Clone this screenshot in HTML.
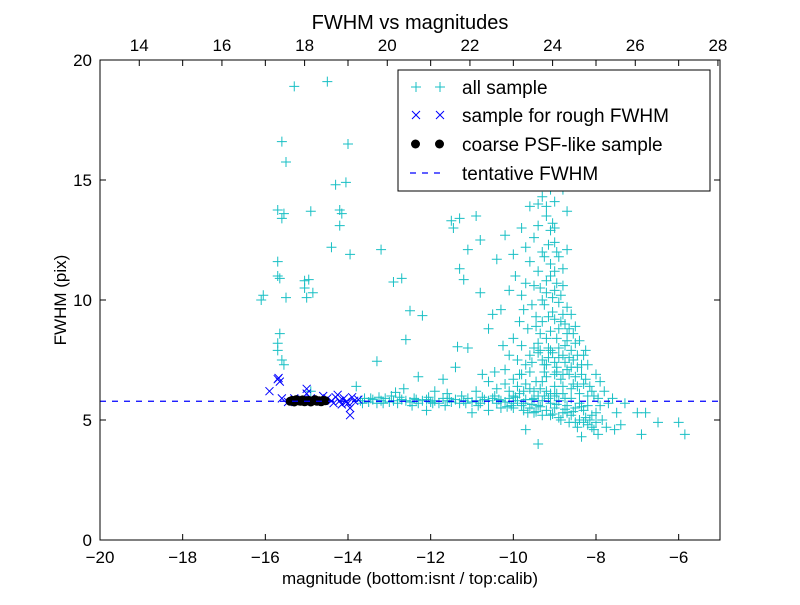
<!DOCTYPE html>
<html><head><meta charset="utf-8"><style>
body{margin:0;background:#fff;}
svg text{font-family:"Liberation Sans",sans-serif;}
</style></head><body>
<svg id="chart" width="800" height="600" xmlns="http://www.w3.org/2000/svg">
<rect width="800" height="600" fill="#fff"/>
<g id="marks"></g>
<g id="axes"></g>
</svg>
<script>
const allPts = [
[-15.6,16.6],[-15.5,15.75],[-15.3,18.9],[-14.5,19.1],[-14.0,16.5],[-15.7,13.75],[-15.6,13.4],[-15.55,13.6],[-14.9,13.7],[-14.2,13.75],[-14.15,13.6],[-14.3,14.8],[-14.05,14.9],[-14.2,13.1],[-14.4,12.2],[-13.95,11.9],[-13.2,12.1],[-12.7,10.9],[-12.9,10.75],
[-16.1,10.0],[-16.05,10.2],[-15.7,11.0],[-15.65,10.9],[-15.7,11.6],[-15.5,10.1],[-15.05,10.8],[-14.95,10.85],[-15.0,10.1],[-14.85,10.3],[-15.05,10.5],
[-15.7,8.2],[-15.65,8.6],[-15.6,7.5],[-15.7,7.9],[-15.55,7.3],[-13.8,6.4],[-13.3,7.45],[-12.6,8.35],[-12.5,9.55],[-12.2,9.35],
[-11.5,13.3],[-11.45,13.0],[-11.3,13.4],[-11.1,12.1],[-10.9,13.5],[-10.8,12.5],[-11.3,11.3],[-11.2,10.85],[-10.8,10.3],[-11.1,8.0],[-11.35,8.05],[-10.6,8.8],[-10.5,9.4],
[-11.7,6.7],[-12.3,6.8],[-11.9,6.2],[-12.85,6.15],[-14.9,6.2],[-12.65,6.3],[-11.4,7.2],[-11.6,6.1],[-12.1,5.4],[-11.0,5.3],
[-13.7,5.8],[-13.5,5.75],[-13.4,5.85],[-13.3,5.7],[-13.2,5.8],[-13.1,5.9],[-13.0,5.75],[-12.9,5.8],[-12.8,5.7],[-12.7,5.85],[-12.6,5.8],[-12.5,5.75],[-12.4,5.9],[-12.3,5.7],[-12.2,5.8],[-12.1,5.85],[-12.0,5.75],[-11.9,5.8],[-11.8,5.7],[-11.7,5.9],[-11.6,5.8],[-11.5,5.75],[-11.4,5.85],[-11.3,5.7],[-11.2,5.8],[-11.1,5.9],[-11.0,5.75],[-10.9,5.8],[-10.8,5.7],[-10.7,5.85],[-10.6,5.8],[-10.5,5.9],[-10.4,5.7],[-10.3,5.8],[-10.2,5.75],[-10.1,5.9],[-10.0,5.7],[-9.9,5.8],[-9.8,5.6],[-9.7,5.85],[-9.6,5.5],[-9.5,5.9],[-9.4,5.6],[-9.3,5.8],[-9.2,5.4],[-9.1,5.7],[-9.0,5.5],[-8.9,5.8],[-8.8,5.3],[-8.7,5.6],[-8.6,5.2],[-8.5,5.5],[-8.4,5.0],[-8.3,5.4],[-8.2,4.8],[-8.1,5.2],[-8.0,4.9],
[-13.65,5.7],[-13.45,5.9],[-13.15,5.7],[-12.75,5.95],[-12.35,5.85],[-11.95,5.7],[-11.55,5.9],[-11.15,5.7],[-10.75,5.95],[-10.35,5.85],[-10.05,5.6],[-9.95,5.95],[-9.75,5.7],[-9.55,5.65],[-9.35,5.55],[-9.15,5.9],[-8.95,5.65],[-8.75,5.45],[-8.55,5.35],[-8.35,5.55],[-8.15,5.0],
[-13.6,5.9],[-13.25,5.95],[-12.95,6.0],[-12.45,5.6],[-12.05,5.95],[-11.65,5.6],[-11.25,6.0],[-10.85,5.6],[-10.45,6.0],[-10.15,5.55],[-9.85,6.1],[-9.65,5.3],[-9.45,5.35],[-9.25,6.0],[-9.05,5.25],[-8.85,5.0],[-8.65,4.9],[-8.45,4.7],[-8.25,5.1],[-8.05,4.6],
[-7.9,5.6],[-7.8,6.2],[-7.7,5.7],[-7.6,5.9],[-7.5,5.3],[-7.4,4.8],[-7.3,5.7],[-7.0,5.3],[-6.9,4.4],[-6.8,5.3],[-6.5,4.9],[-6.0,4.9],[-5.85,4.4],[-7.55,4.6],[-7.95,4.4],[-8.35,4.3],[-9.7,4.6],[-9.4,4.0],
[-10.4,6.3],[-10.2,7.1],[-10.0,6.7],[-9.9,7.5],[-9.8,8.1],[-9.7,6.5],[-9.6,7.0],[-9.5,6.2],[-9.4,7.8],[-9.3,6.6],[-9.2,7.3],[-9.1,6.1],[-9.0,6.9],[-8.9,7.6],[-8.8,6.4],[-8.7,7.1],[-8.6,6.3],[-8.5,6.8],[-8.4,6.1],[-8.3,6.5],[-8.2,6.0],[-8.1,6.2],
[-10.1,6.2],[-9.85,6.9],[-9.55,7.4],[-9.35,8.6],[-9.15,8.0],[-8.95,8.4],[-8.75,8.1],[-8.55,7.5],[-8.45,7.2],[-8.65,8.8],[-8.85,9.1],[-9.05,9.5],[-9.25,9.8],[-9.45,9.3],[-9.65,8.8],[-9.75,9.6],
[-10.3,9.6],[-10.1,10.4],[-9.95,11.0],[-9.8,10.2],[-9.6,11.6],[-9.5,10.6],[-9.4,11.2],[-9.3,10.0],[-9.2,10.8],[-9.1,11.5],[-9.0,10.4],[-8.9,9.9],[-8.8,10.6],[-8.7,9.7],[-8.6,9.4],[-8.5,8.9],[-8.4,8.3],[-8.3,7.7],[-8.2,7.3],[-8.0,6.9],[-7.9,6.6],
[-9.7,12.2],[-9.5,12.6],[-9.4,13.1],[-9.3,12.0],[-9.2,13.5],[-9.1,12.9],[-9.0,12.4],[-8.9,11.8],[-8.8,11.3],[-8.7,12.1],[-9.6,13.9],[-9.3,14.3],[-9.0,14.1],[-8.8,14.6],[-9.5,14.9],[-9.2,15.2],[-9.4,14.0],[-9.1,14.6],[-8.7,13.7],[-9.8,13.0],[-10.2,12.7],[-10.4,11.7],[-10.0,11.9],
[-9.15,7.6],[-8.95,7.0],[-8.85,6.7],[-8.75,7.4],[-8.65,6.9],[-9.45,6.6],[-9.25,7.0],[-9.05,7.8],[-8.55,6.5],[-8.35,6.9],[-8.25,7.9],[-9.35,6.3],[-8.95,6.1],[-8.75,5.9],[-9.55,5.85],[-10.3,5.5],[-10.6,5.4],
[-9.25,7.3],[-9.1,7.9],[-9.0,7.4],[-8.9,8.0],[-8.8,7.7],[-8.7,8.3],[-8.6,7.9],[-8.5,8.2],[-8.6,7.2],[-8.8,6.9],[-9.0,6.4],[-9.2,6.8],[-9.3,7.5],[-9.4,8.2],[-9.5,8.0],[-9.6,7.7],[-9.7,7.3],[-9.8,6.9],[-9.9,6.4],[-10.0,6.0],
[-9.1,8.7],[-8.9,8.8],[-8.7,8.6],[-9.3,9.1],[-9.0,9.2],[-8.8,9.4],[-9.2,8.4],[-9.35,7.9],[-8.95,7.2],[-8.65,7.6],[-8.45,7.7],[-8.35,7.3],[-8.45,6.4],[-8.25,6.7],[-8.15,6.4],[-8.05,6.0],[-7.95,5.9],
[-9.15,9.3],[-9.05,10.1],[-9.2,10.3],[-8.95,10.7],[-9.35,10.5],[-9.1,11.0],[-9.25,11.8],[-9.0,11.2],[-9.15,12.3],[-9.05,13.2],[-9.2,13.9],[-9.0,13.0],[-8.95,12.0],[-8.85,10.2],[-8.75,9.0],[-8.55,8.6],
[-9.45,8.9],[-9.55,9.8],[-9.7,10.7],[-9.85,9.1],[-10.0,8.4],[-10.1,7.7],[-10.25,8.1],[-10.45,7.0],[-10.6,6.6],[-10.75,6.9],[-10.9,6.2],[-10.2,6.5],[-9.75,6.2],[-9.6,6.3],[-9.4,6.0],[-9.2,6.2],[-9.0,6.0],[-8.8,6.1],[-8.6,5.9],[-8.4,5.7],[-8.2,5.6],
[-9.1,5.2],[-8.9,5.1],[-8.7,5.3],[-8.5,4.9],[-8.3,4.9],[-8.1,4.7],[-9.3,5.2],[-9.5,5.3],[-9.75,5.4],[-10.0,5.5],[-8.0,5.3],[-7.85,5.0],[-7.75,4.7]
];
const allMag = allPts.map(p => p[0]);
const allFwhm = allPts.map(p => p[1]);
const roughMag = [-15.9,-15.7,-15.65,-15.6,-15.0,-14.6,-14.5,-14.3,-14.1,-14.0,-13.95,-13.95,-14.2,-14.4,-14.7,-14.8,-14.9,-15.1,-13.9,-13.85,-15.45,-15.3,-14.25,-14.05,-13.75,-15.0,-14.35,-14.15,-15.68];
const roughFwhm = [6.2,6.7,6.6,5.9,6.3,6.0,5.9,5.95,5.9,5.7,5.5,5.2,5.8,5.8,5.85,5.8,5.9,5.85,5.95,5.8,5.75,5.9,6.05,5.75,5.85,6.1,5.7,5.65,6.75];
const psfMag = [-15.4,-15.35,-15.3,-15.25,-15.2,-15.15,-15.1,-15.05,-15.0,-14.95,-14.9,-14.85,-14.8,-14.75,-14.7,-14.65,-14.6,-14.55];
const psfFwhm = [5.78,5.82,5.75,5.85,5.8,5.78,5.84,5.76,5.8,5.82,5.75,5.8,5.85,5.78,5.8,5.76,5.82,5.8];
const tentative = 5.78;
const xTicks = [-20,-18,-16,-14,-12,-10,-8,-6];
const xTickLabels = ["\u221220","\u221218","\u221216","\u221214","\u221212","\u221210","\u22128","\u22126"];
const topTicks = [14,16,18,20,22,24,26,28];
const yTicks = [0,5,10,15,20];

const L=100,R=720,T=60,B=540;
const xs = v => L + (v+20)/15*(R-L);
const ys = v => B - v/20*(B-T);
const xTop = v => xs(v-33.05);
const NS="http://www.w3.org/2000/svg";
const marks=document.getElementById('marks'), axes=document.getElementById('axes');
function mk(tag,attrs,parent){const e=document.createElementNS(NS,tag);for(const k in attrs)e.setAttribute(k,attrs[k]);parent.appendChild(e);return e;}
function plus(x,y,c,g){mk('path',{d:`M${x-5},${y}H${x+5}M${x},${y-5}V${y+5}`,stroke:c,'stroke-width':1,fill:'none'},g);}
function cross(x,y,c,g){mk('path',{d:`M${x-4},${y-4}L${x+4},${y+4}M${x-4},${y+4}L${x+4},${y-4}`,stroke:c,'stroke-width':1,fill:'none'},g);}

const clip=mk('clipPath',{id:'pc'},document.getElementById('chart'));
mk('rect',{x:L,y:T,width:R-L,height:B-T},clip);
const gAll=mk('g',{'clip-path':'url(#pc)'},marks);


allMag.forEach((m,i)=>plus(xs(m),ys(allFwhm[i]),'#17bfc4',gAll));
const gR=mk('g',{},marks);


roughMag.forEach((m,i)=>cross(xs(m),ys(roughFwhm[i]),'#0000ff',gR));
const gP=mk('g',{},marks);


psfMag.forEach((m,i)=>mk('circle',{cx:xs(m),cy:ys(psfFwhm[i]),r:4.5,fill:'#000'},gP));
const tl=mk('line',{x1:L,x2:R,y1:ys(tentative),y2:ys(tentative),stroke:'#0000ff','stroke-width':1.3,'stroke-dasharray':'6,6'},marks);



const frame=mk('rect',{x:L,y:T,width:R-L,height:B-T,fill:'none',stroke:'#000','stroke-width':1},axes);


xTicks.forEach((v,i)=>{const x=xs(v);
 mk('path',{d:`M${x},${B}v-6M${x},${T}v6`,stroke:'#000'},axes);
 const t=mk('text',{x:x,y:B+23,'text-anchor':'middle','font-size':17},axes);t.textContent=xTickLabels[i];
 
 
});
topTicks.forEach(v=>{const x=xTop(v);
 mk('path',{d:`M${x},${T}v6`,stroke:'#000'},axes);
 const t=mk('text',{x:x,y:T-9,'text-anchor':'middle','font-size':17},axes);t.textContent=v;
 
 
});
yTicks.forEach(v=>{const y=ys(v);
 mk('path',{d:`M${L},${y}h6M${R},${y}h-6`,stroke:'#000'},axes);
 const t=mk('text',{x:L-8,y:y+6,'text-anchor':'end','font-size':17},axes);t.textContent=v;
 
 
});
</script>
<svg width="800" height="600" style="position:absolute;left:0;top:0">
<text x="410" y="29" text-anchor="middle" font-size="20">FWHM vs magnitudes</text>
<text x="410" y="584" text-anchor="middle" font-size="17">magnitude (bottom:isnt / top:calib)</text>
<text transform="translate(66,300) rotate(-90)" text-anchor="middle" font-size="17">FWHM (pix)</text>
<g>
<rect x="398" y="70" width="312" height="121" fill="#fff" stroke="#000" stroke-width="1"/>
<g>
<path d="M411,87h10M416,82v10M435,87h10M440,82v10" stroke="#17bfc4"/>
<text x="462" y="94" font-size="19">all sample</text></g>
<g>
<path d="M412,111l8,8M412,119l8,-8M436,111l8,8M436,119l8,-8" stroke="#0000ff"/>
<text x="462" y="122" font-size="19">sample for rough FWHM</text></g>
<g>
<circle cx="415.5" cy="144" r="4.5"/><circle cx="439.5" cy="144" r="4.5"/>
<text x="462" y="151" font-size="19">coarse PSF-like sample</text></g>
<g>
<path d="M410,173h36" stroke="#0000ff" stroke-width="1.3" stroke-dasharray="6,6"/>
<text x="462" y="180" font-size="19">tentative FWHM</text></g>
</g>
</svg>
</body></html>
